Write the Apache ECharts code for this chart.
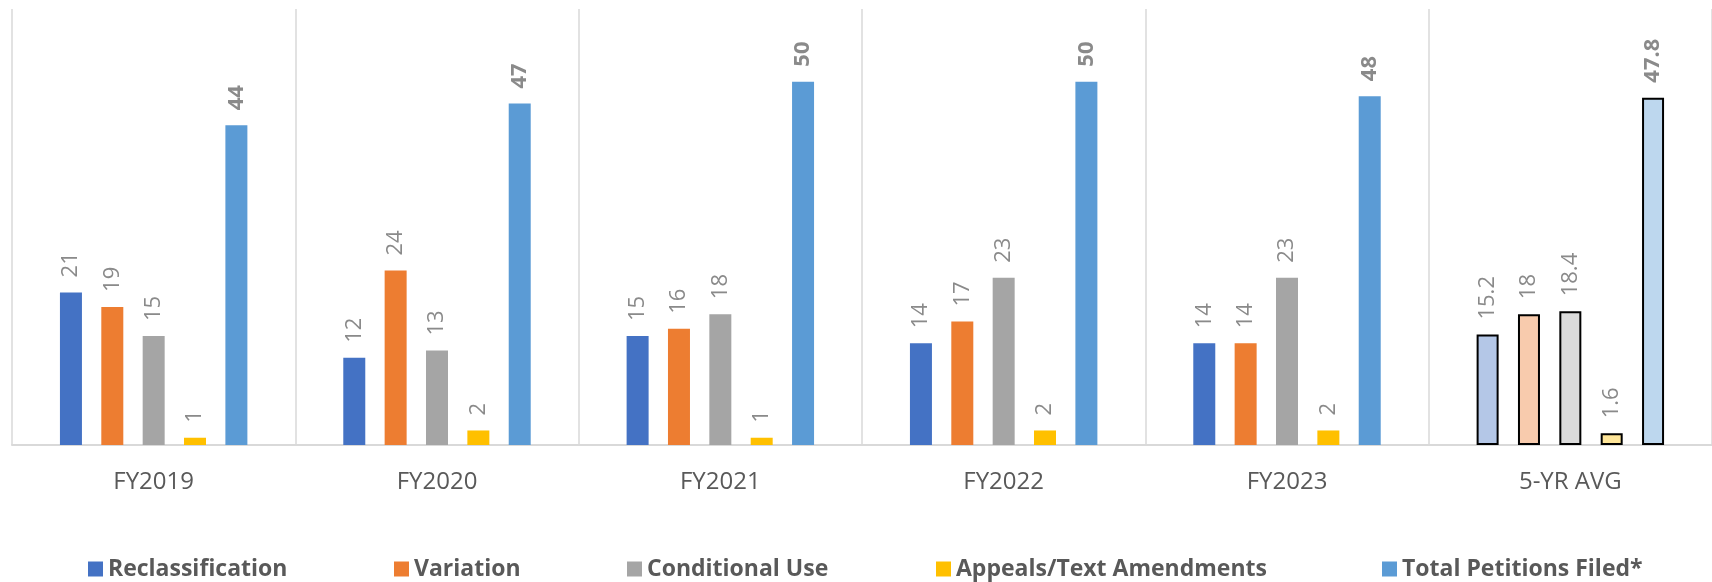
<!DOCTYPE html>
<html>
<head>
<meta charset="utf-8">
<script src="https://cdn.jsdelivr.net/npm/echarts@6/dist/echarts.min.js"></script>
<style>
html,body{margin:0;padding:0;background:#fff;}
#chart{width:1712px;height:582px;}
</style>
</head>
<body>
<div id="chart"></div>
<script>
const categories = ['FY2019', 'FY2020', 'FY2021', 'FY2022', 'FY2023', '5-YR AVG'];
const seriesNames = ['Reclassification', 'Variation', 'Conditional Use', 'Appeals/Text Amendments', 'Total Petitions Filed*'];
const reclassification = [21, 12, 15, 14, 14, 15.2];
const variation = [19, 24, 16, 17, 14, 18];
const conditionalUse = [15, 13, 18, 23, 23, 18.4];
const appealsText = [1, 2, 1, 2, 2, 1.6];
const totalPetitions = [44, 47, 50, 50, 48, 47.8];

const seriesValues = [reclassification, variation, conditionalUse, appealsText, totalPetitions];
const baseColors = ['#4472C4', '#ED7D31', '#A5A5A5', '#FFC000', '#5B9BD5'];
const avgColors = ['#B4C7E7', '#F8CBAD', '#DBDBDB', '#FFE699', '#BDD7EE'];
const legendLeft = [88, 394, 627, 936, 1382];
const FONT = "'Open Sans', 'DejaVu Sans', sans-serif";

const series = seriesValues.map((vals, si) => ({
  name: seriesNames[si],
  type: 'bar',
  barWidth: 22,
  barGap: '88%',
  itemStyle: { color: baseColors[si] },
  label: {
    show: true,
    position: 'top',
    rotate: 90,
    align: 'left',
    verticalAlign: 'middle',
    distance: 15,
    color: '#8a8a8a',
    fontSize: 22,
    fontFamily: FONT,
    fontWeight: si === 4 ? 'bold' : 'normal'
  },
  data: vals.map((v, ci) => ci === categories.length - 1
    ? { value: v, itemStyle: { color: avgColors[si], borderColor: '#000', borderWidth: 2 } }
    : v)
}));

const legends = seriesNames.map((n, i) => ({
  data: [n],
  left: legendLeft[i],
  top: 555,
  orient: 'horizontal',
  icon: 'rect',
  itemWidth: 15,
  itemHeight: 15,
  padding: 0,
  itemGap: 0,
  selectedMode: false,
  textStyle: { fontSize: 23, fontWeight: 'bold', color: '#595959', fontFamily: FONT, lineHeight: 28 }
}));

const chart = echarts.init(document.getElementById('chart'), null, { renderer: 'canvas' });
chart.setOption({
  animation: false,
  backgroundColor: '#fff',
  grid: { left: 12, right: 0, top: 9, bottom: 137, containLabel: false },
  legend: legends,
  xAxis: {
    type: 'category',
    data: categories,
    axisLine: { show: true, lineStyle: { color: '#d9d9d9', width: 2 } },
    axisTick: { show: false },
    splitLine: { show: true, interval: 0, lineStyle: { color: '#d9d9d9', width: 1.5 } },
    axisLabel: { color: '#595959', fontSize: 24, fontFamily: FONT, margin: 25, interval: 0 }
  },
  yAxis: {
    type: 'value',
    min: 0,
    max: 60,
    interval: 10,
    show: false,
    splitLine: { show: false }
  },
  series: series
});
</script>
</body>
</html>
